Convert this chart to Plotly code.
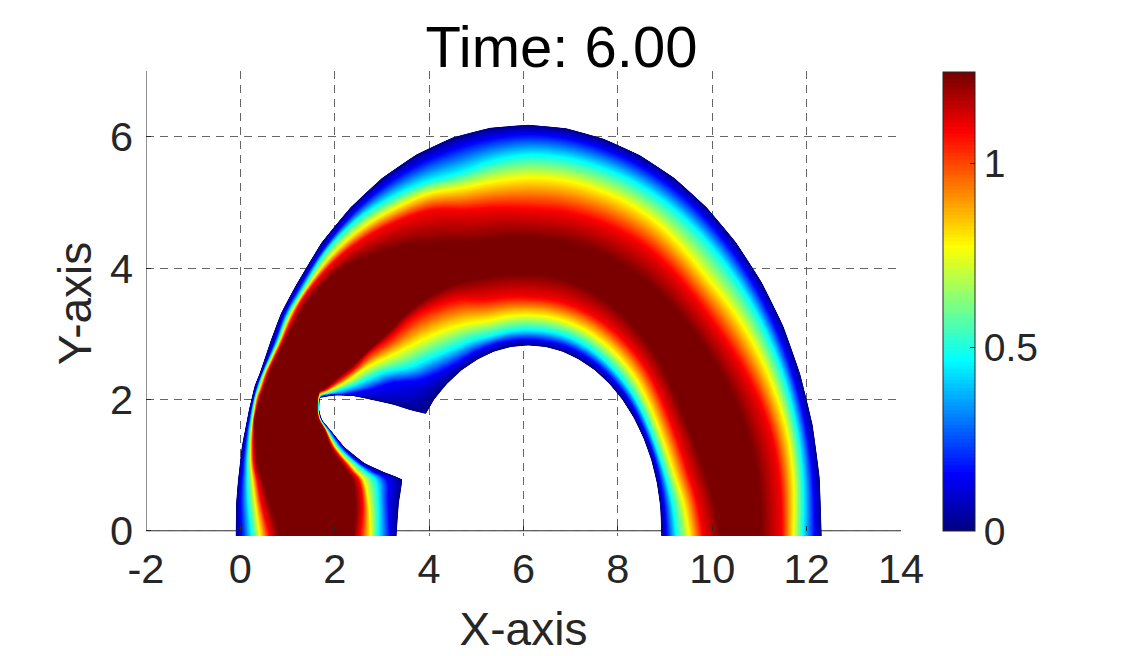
import math
import plotly.graph_objects as go

TITLE = "Time: 6.00"
X_LABEL = "X-axis"
Y_LABEL = "Y-axis"
X_TICKS = [-2, 0, 2, 4, 6, 8, 10, 12, 14]
Y_TICKS = [0, 2, 4, 6]
CB_TICKS = [0, 0.5, 1]
VMAX = 1.25

# value carried by each node across the band, outer edge -> inner edge
LEVELS = [0, 0.156, 0.469, 0.781, 1.094, 1.25, 1.25, 1.094, 0.781, 0.469, 0.156, 0]

# left leg: node x / y per cross-section, foot upward
LEFT_X = [
    [-0.10, 0.03, 0.24, 0.42, 0.63, 0.84, 2.39, 2.53, 2.75, 2.92, 3.17, 3.31],
    [-0.09, 0.01, 0.17, 0.32, 0.45, 0.63, 2.43, 2.59, 2.71, 2.92, 3.13, 3.36],
    [-0.05, 0.03, 0.15, 0.26, 0.36, 0.47, 2.36, 2.50, 2.60, 2.85, 3.10, 3.43],
    [-0.03, 0.05, 0.15, 0.24, 0.32, 0.41, 2.25, 2.36, 2.45, 2.65, 2.82, 3.03],
    [-0.01, 0.06, 0.15, 0.22, 0.29, 0.36, 2.12, 2.22, 2.29, 2.43, 2.52, 2.63],
    [0.03, 0.10, 0.17, 0.22, 0.27, 0.33, 1.90, 1.95, 2.00, 2.07, 2.15, 2.20],
    [0.10, 0.15, 0.20, 0.24, 0.28, 0.31, 1.77, 1.79, 1.81, 1.84, 1.88, 1.90],
    [0.14, 0.19, 0.23, 0.27, 0.29, 0.31, 1.66, 1.67, 1.69, 1.70, 1.71, 1.73],
    [0.18, 0.23, 0.26, 0.30, 0.33, 0.35, 1.62, 1.63, 1.64, 1.65, 1.66, 1.67],
    [0.24, 0.29, 0.31, 0.34, 0.39, 0.42, 1.67, 1.67, 1.68, 1.69, 1.69, 1.69],
    [0.30, 0.35, 0.38, 0.42, 0.47, 0.50, 1.71, 1.74, 1.79, 1.86, 1.93, 2.00],
    [0.41, 0.46, 0.48, 0.52, 0.56, 0.60, 1.76, 1.81, 1.88, 2.00, 2.22, 2.39],
    [0.65, 0.74, 0.79, 0.83, 0.88, 0.92, 2.11, 2.18, 2.29, 2.46, 2.68, 3.24],
    [0.86, 0.94, 0.99, 1.04, 1.10, 1.17, 2.39, 2.45, 2.53, 2.75, 2.97, 3.59],
    [1.16, 1.22, 1.28, 1.32, 1.36, 1.45, 2.68, 2.71, 2.80, 3.04, 3.25, 3.93],
]
LEFT_Y = [
    [-0.08] * 12,
    [0.42] * 12,
    [0.78] * 12,
    [0.90] * 12,
    [1.03] * 12,
    [1.28] * 12,
    [1.54] * 12,
    [1.69] * 12,
    [1.84] * 12,
    [2.02, 2.02, 2.02, 2.02, 2.02, 2.02, 2.12, 2.10, 2.07, 2.05, 2.03, 2.02],
    [2.20, 2.19, 2.19, 2.18, 2.18, 2.17, 2.15, 2.13, 2.11, 2.09, 2.08, 2.06],
    [2.40, 2.40, 2.39, 2.39, 2.38, 2.37, 2.16, 2.15, 2.14, 2.12, 2.08, 2.05],
    [2.91, 2.90, 2.89, 2.88, 2.87, 2.86, 2.37, 2.34, 2.30, 2.23, 2.14, 1.92],
    [3.31, 3.30, 3.27, 3.25, 3.23, 3.19, 2.53, 2.49, 2.43, 2.32, 2.20, 1.84],
    [3.72, 3.67, 3.63, 3.60, 3.57, 3.51, 2.73, 2.69, 2.54, 2.41, 2.26, 1.78],
]

# arch: node radius about its centre, per angle
ARCH_CENTRE = 6.1
ARCH_ANGLES = [135, 127.5, 120, 112.5, 105, 97.5, 90, 82.5, 75, 67.5, 60, 52.5, 45, 37.5, 30, 22.5, 15, 7.5]
ARCH_RADII = [
    [6.20, 6.10, 6.04, 5.91, 5.80, 5.62, 4.25, 4.15, 3.87, 3.53, 3.25, 2.82],
    [6.20, 6.09, 5.97, 5.80, 5.63, 5.30, 4.20, 4.07, 3.68, 3.33, 3.05, 2.82],
    [6.20, 6.07, 5.85, 5.66, 5.45, 5.00, 4.15, 3.95, 3.54, 3.20, 2.96, 2.82],
    [6.20, 6.04, 5.74, 5.55, 5.28, 4.72, 4.08, 3.82, 3.42, 3.13, 2.94, 2.82],
    [6.20, 6.02, 5.64, 5.40, 5.05, 4.52, 4.00, 3.65, 3.32, 3.07, 2.93, 2.82],
    [6.19, 6.02, 5.68, 5.36, 4.95, 4.46, 3.96, 3.59, 3.30, 3.06, 2.92, 2.82],
    [6.18, 6.03, 5.72, 5.37, 4.89, 4.43, 3.93, 3.56, 3.29, 3.06, 2.91, 2.82],
    [6.18, 6.03, 5.73, 5.38, 4.90, 4.43, 3.93, 3.56, 3.29, 3.06, 2.91, 2.82],
    [6.18, 6.03, 5.74, 5.39, 4.92, 4.45, 3.92, 3.56, 3.29, 3.07, 2.92, 2.82],
    [6.19, 6.04, 5.76, 5.41, 4.95, 4.47, 3.90, 3.56, 3.29, 3.07, 2.92, 2.82],
    [6.20, 6.05, 5.78, 5.42, 4.98, 4.50, 3.88, 3.55, 3.28, 3.06, 2.92, 2.82],
    [6.21, 6.06, 5.80, 5.40, 4.99, 4.54, 3.85, 3.54, 3.27, 3.05, 2.92, 2.82],
    [6.22, 6.07, 5.82, 5.40, 5.00, 4.58, 3.82, 3.52, 3.25, 3.04, 2.92, 2.82],
    [6.23, 6.08, 5.85, 5.48, 5.05, 4.64, 3.78, 3.48, 3.21, 3.02, 2.91, 2.82],
    [6.24, 6.09, 5.88, 5.56, 5.15, 4.72, 3.75, 3.45, 3.18, 3.00, 2.90, 2.82],
    [6.24, 6.09, 5.90, 5.63, 5.27, 4.80, 3.78, 3.46, 3.18, 3.00, 2.90, 2.82],
    [6.24, 6.09, 5.90, 5.68, 5.36, 4.87, 3.85, 3.50, 3.22, 3.03, 2.90, 2.82],
    [6.23, 6.08, 5.87, 5.66, 5.38, 4.90, 3.97, 3.60, 3.32, 3.08, 2.91, 2.82],
]

# right foot section at the base
RIGHT_FOOT_X = [12.32, 12.17, 11.92, 11.71, 11.47, 11.01, 10.20, 9.81, 9.52, 9.24, 9.03, 8.92]
RIGHT_FOOT_Y = [-0.08] * 12

JET = [
    [0.0, "rgb(0,0,128)"], [0.125, "rgb(0,0,255)"], [0.375, "rgb(0,255,255)"],
    [0.625, "rgb(255,255,0)"], [0.875, "rgb(255,0,0)"], [1.0, "rgb(122,0,0)"],
]

mesh_x = [list(r) for r in LEFT_X]
mesh_y = [list(r) for r in LEFT_Y]
for ang, radii in zip(ARCH_ANGLES, ARCH_RADII):
    t = math.radians(ang)
    mesh_x.append([ARCH_CENTRE + r * math.cos(t) for r in radii])
    mesh_y.append([r * math.sin(t) for r in radii])
mesh_x.append(RIGHT_FOOT_X)
mesh_y.append(RIGHT_FOOT_Y)

a_coord = list(range(len(LEVELS)))
b_coord = list(range(len(mesh_x)))
z_grid = [list(LEVELS) for _ in b_coord]

hidden = dict(showgrid=False, showline=False, startline=False, endline=False,
              showticklabels="none", minorgridcount=0, smoothing=0)

INK = "#262626"
fig = go.Figure()
fig.add_trace(go.Carpet(a=a_coord, b=b_coord, x=mesh_x, y=mesh_y, carpet="band",
                        aaxis=hidden, baxis=hidden))
fig.add_trace(go.Contourcarpet(
    a=a_coord, b=b_coord, z=z_grid, carpet="band",
    autocontour=False, contours=dict(start=0.0, end=1.24, size=0.01, coloring="fill", showlines=False),
    line=dict(width=0), colorscale=JET, zmin=0, zmax=VMAX,
    colorbar=dict(
        x=(943 - 146) / 755, xanchor="left", xpad=0, y=1 - 1 / 465, yanchor="top", ypad=0,
        thickness=32, lenmode="pixels", len=459, outlinewidth=1, outlinecolor=INK,
        ticks="inside", ticklen=5, tickcolor=INK, tickvals=CB_TICKS,
        ticktext=[str(v) for v in CB_TICKS],
        tickfont=dict(family="Liberation Sans", size=39, color=INK),
    ),
))

grid = dict(showgrid=True, gridcolor="#666666", gridwidth=1, griddash="8px,6px",
            zeroline=False, ticks="inside", ticklen=5, tickcolor=INK,
            tickfont=dict(family="Liberation Sans", size=41.5, color=INK))

Y_LOW = -0.08
fig.update_layout(
    width=1125, height=656, margin=dict(l=138, r=232, t=63, b=128),
    paper_bgcolor="white", plot_bgcolor="white", showlegend=False,
    title=dict(text=TITLE, x=553.5 / 1125, xref="container", xanchor="center",
               y=1 - 39 / 656, yref="container", yanchor="middle",
               font=dict(family="Liberation Sans", size=58, color="black")),
    xaxis=dict(range=[-2, 14], tickvals=X_TICKS, ticktext=[str(v) for v in X_TICKS],
               anchor="free", position=-Y_LOW / (7 - Y_LOW), showline=False, ticklabelstandoff=10,
               title=dict(text=X_LABEL, font=dict(family="Liberation Sans", size=46, color=INK), standoff=21),
               **grid),
    yaxis=dict(range=[Y_LOW, 7], tickvals=Y_TICKS, showline=False, ticklabelstandoff=12,
               title=dict(text=Y_LABEL, font=dict(family="Liberation Sans", size=46, color=INK), standoff=3),
               **grid),
    shapes=[
        dict(type="line", xref="x", yref="y", x0=-2, x1=-2, y0=0, y1=7, layer="below",
             line=dict(color=INK, width=1)),
        dict(type="line", xref="x", yref="y", x0=-2, x1=14, y0=0, y1=0, layer="below",
             line=dict(color=INK, width=1)),
    ],
)
fig.write_html("out.html")
